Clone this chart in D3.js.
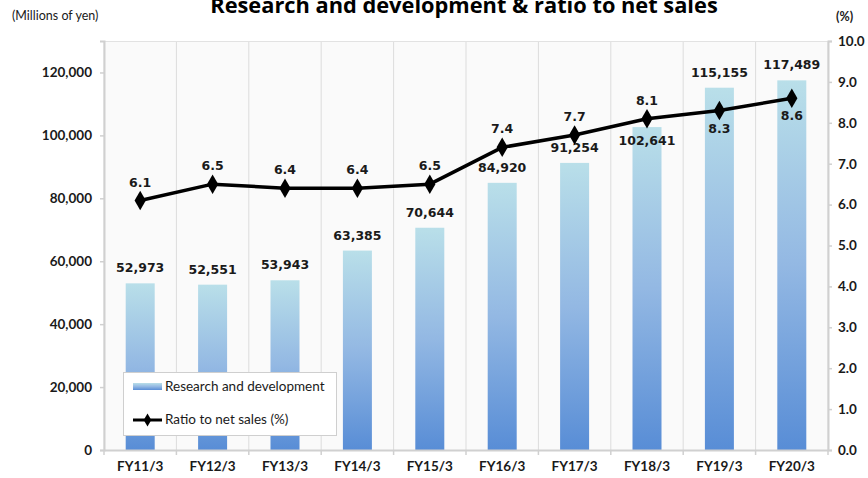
<!DOCTYPE html>
<html><head><meta charset="utf-8">
<script src="https://cdn.jsdelivr.net/npm/d3@7"></script>
<style>body{margin:0;background:#fff}</style>
</head><body>
<svg id="c" width="868" height="478"></svg>
<script>
const categories = ["FY11/3","FY12/3","FY13/3","FY14/3","FY15/3","FY16/3","FY17/3","FY18/3","FY19/3","FY20/3"];
const rdValues = [52973,52551,53943,63385,70644,84920,91254,102641,115155,117489];
const rdLabelInside = [false,false,false,false,false,false,false,true,false,false];
const ratioValues = [6.1,6.5,6.4,6.4,6.5,7.4,7.7,8.1,8.3,8.6];
const ratioLabelBelow = [false,false,false,false,false,false,false,false,true,true];
const leftTicks = [0,20000,40000,60000,80000,100000,120000];
const rightTicks = [0,1,2,3,4,5,6,7,8,9,10];

const svg = d3.select("#c");
const m = {l:104, r:828, t:41, b:450};
const x = d3.scaleBand().domain(categories).range([m.l, m.r]).paddingInner(0).paddingOuter(0);
const yL = d3.scaleLinear().domain([0,130000]).range([m.b, m.t]);
const yR = d3.scaleLinear().domain([0,10]).range([m.b, m.t]);

const defs = svg.append("defs");
const g = defs.append("linearGradient").attr("id","barGrad").attr("x1",0).attr("y1",0).attr("x2",0).attr("y2",1);
g.append("stop").attr("offset","0%").attr("stop-color","#b9dfe9");
g.append("stop").attr("offset","50%").attr("stop-color","#93b8e3");
g.append("stop").attr("offset","100%").attr("stop-color","#588dd6");

// plot background
svg.append("rect").attr("x",m.l).attr("y",m.t).attr("width",m.r-m.l).attr("height",m.b-m.t).attr("fill","#fafafa");
// vertical gridlines at category boundaries
const bounds = categories.map(c=>x(c)).concat([m.r]);
svg.append("g").selectAll("line").data(bounds).join("line")
  .attr("x1",d=>d).attr("x2",d=>d).attr("y1",m.t).attr("y2",m.b)
  .attr("stroke","#dcdcdc").attr("stroke-width",1);
svg.append("line").attr("x1",m.l).attr("x2",m.r).attr("y1",m.t+0.5).attr("y2",m.t+0.5).attr("stroke","#e2e2e2");

// bars
const bw = 29;
svg.append("g").selectAll("rect").data(rdValues).join("rect")
  .attr("x",(d,i)=>x(categories[i])+x.bandwidth()/2-bw/2)
  .attr("y",d=>yL(d)).attr("width",bw).attr("height",d=>m.b-yL(d))
  .attr("fill","url(#barGrad)");

// axes
const tickFont = "Lato, 'Liberation Sans', sans-serif";
const axL = svg.append("g").attr("transform",`translate(${m.l},0)`)
  .call(d3.axisLeft(yL).tickValues(leftTicks).tickFormat(d3.format(",")).tickSize(4).tickPadding(8));
const axR = svg.append("g").attr("transform",`translate(${m.r},0)`)
  .call(d3.axisRight(yR).tickValues(rightTicks).tickFormat(d3.format(".1f")).tickSize(4).tickPadding(6));
const axB = svg.append("g").attr("transform",`translate(0,${m.b})`)
  .call(d3.axisBottom(x).tickSizeOuter(0).tickSize(0).tickPadding(11));
[axL,axR,axB].forEach(a=>{
  a.select(".domain").attr("stroke","#d0d0d0").attr("stroke-width",2);
  a.selectAll(".tick line").attr("stroke","#d0d0d0").attr("stroke-width",1.5);
  a.selectAll("text").attr("font-family",tickFont).attr("font-size",13.5).attr("font-weight","bold").attr("fill","#1a1a1a");
});
// bottom tick marks at boundaries
svg.append("g").selectAll("line").data(bounds).join("line")
  .attr("x1",d=>d).attr("x2",d=>d).attr("y1",m.b).attr("y2",m.b+5).attr("stroke","#d0d0d0").attr("stroke-width",1.5);

// bar value labels
const valFont = "'DejaVu Sans', Verdana, sans-serif";
svg.append("g").selectAll("text").data(rdValues).join("text")
  .attr("x",(d,i)=>x(categories[i])+x.bandwidth()/2)
  .attr("y",(d,i)=>rdLabelInside[i] ? yL(d)+18 : yL(d)-11)
  .attr("text-anchor","middle").attr("font-family",valFont).attr("font-size",12.5).attr("font-weight","bold").attr("fill","#1a1a1a")
  .text(d=>d3.format(",")(d));

// line
const line = d3.line().x((d,i)=>x(categories[i])+x.bandwidth()/2).y(d=>yR(d));
svg.append("path").datum(ratioValues).attr("d",line).attr("fill","none").attr("stroke","#000").attr("stroke-width",3.5).attr("stroke-linejoin","round");
svg.append("g").selectAll("path").data(ratioValues).join("path")
  .attr("transform",(d,i)=>`translate(${x(categories[i])+x.bandwidth()/2},${yR(d)})`)
  .attr("d",d3.symbol(d3.symbolDiamond, 110)())
  .attr("fill","#000");
svg.append("g").selectAll("text").data(ratioValues).join("text")
  .attr("x",(d,i)=>x(categories[i])+x.bandwidth()/2)
  .attr("y",(d,i)=>ratioLabelBelow[i] ? yR(d)+22 : yR(d)-14)
  .attr("text-anchor","middle").attr("font-family",valFont).attr("font-size",12.5).attr("font-weight","bold").attr("fill","#1a1a1a")
  .text(d=>d3.format(".1f")(d));

// title & axis unit labels
svg.append("text").attr("x",464).attr("y",13).attr("text-anchor","middle")
  .attr("font-family","'Open Sans', Lato, sans-serif").attr("font-size",21.8).attr("font-weight","bold").attr("fill","#000")
  .text("Research and development & ratio to net sales");
svg.append("text").attr("x",12).attr("y",20).attr("font-family",tickFont).attr("font-size",12.5).attr("fill","#1a1a1a")
  .text("(Millions of yen)");
svg.append("text").attr("x",836).attr("y",21).attr("font-family",tickFont).attr("font-size",12.5).attr("font-weight","bold").attr("fill","#1a1a1a")
  .text("(%)");

// legend
const lg = svg.append("g");
lg.append("rect").attr("x",123.5).attr("y",372.5).attr("width",213).attr("height",63).attr("fill","#fff").attr("stroke","#cfcfcf");
lg.append("rect").attr("x",133).attr("y",383).attr("width",29).attr("height",7).attr("fill","url(#barGrad)");
lg.append("text").attr("x",165).attr("y",391).attr("font-family",tickFont).attr("font-size",13.5).attr("fill","#1a1a1a").text("Research and development");
lg.append("line").attr("x1",133).attr("x2",162).attr("y1",420).attr("y2",420).attr("stroke","#000").attr("stroke-width",3);
lg.append("path").attr("transform","translate(147.5,420)").attr("d",d3.symbol(d3.symbolDiamond,50)()).attr("fill","#000");
lg.append("text").attr("x",165).attr("y",424).attr("font-family",tickFont).attr("font-size",13.5).attr("fill","#1a1a1a").text("Ratio to net sales (%)");
</script>
</body></html>
